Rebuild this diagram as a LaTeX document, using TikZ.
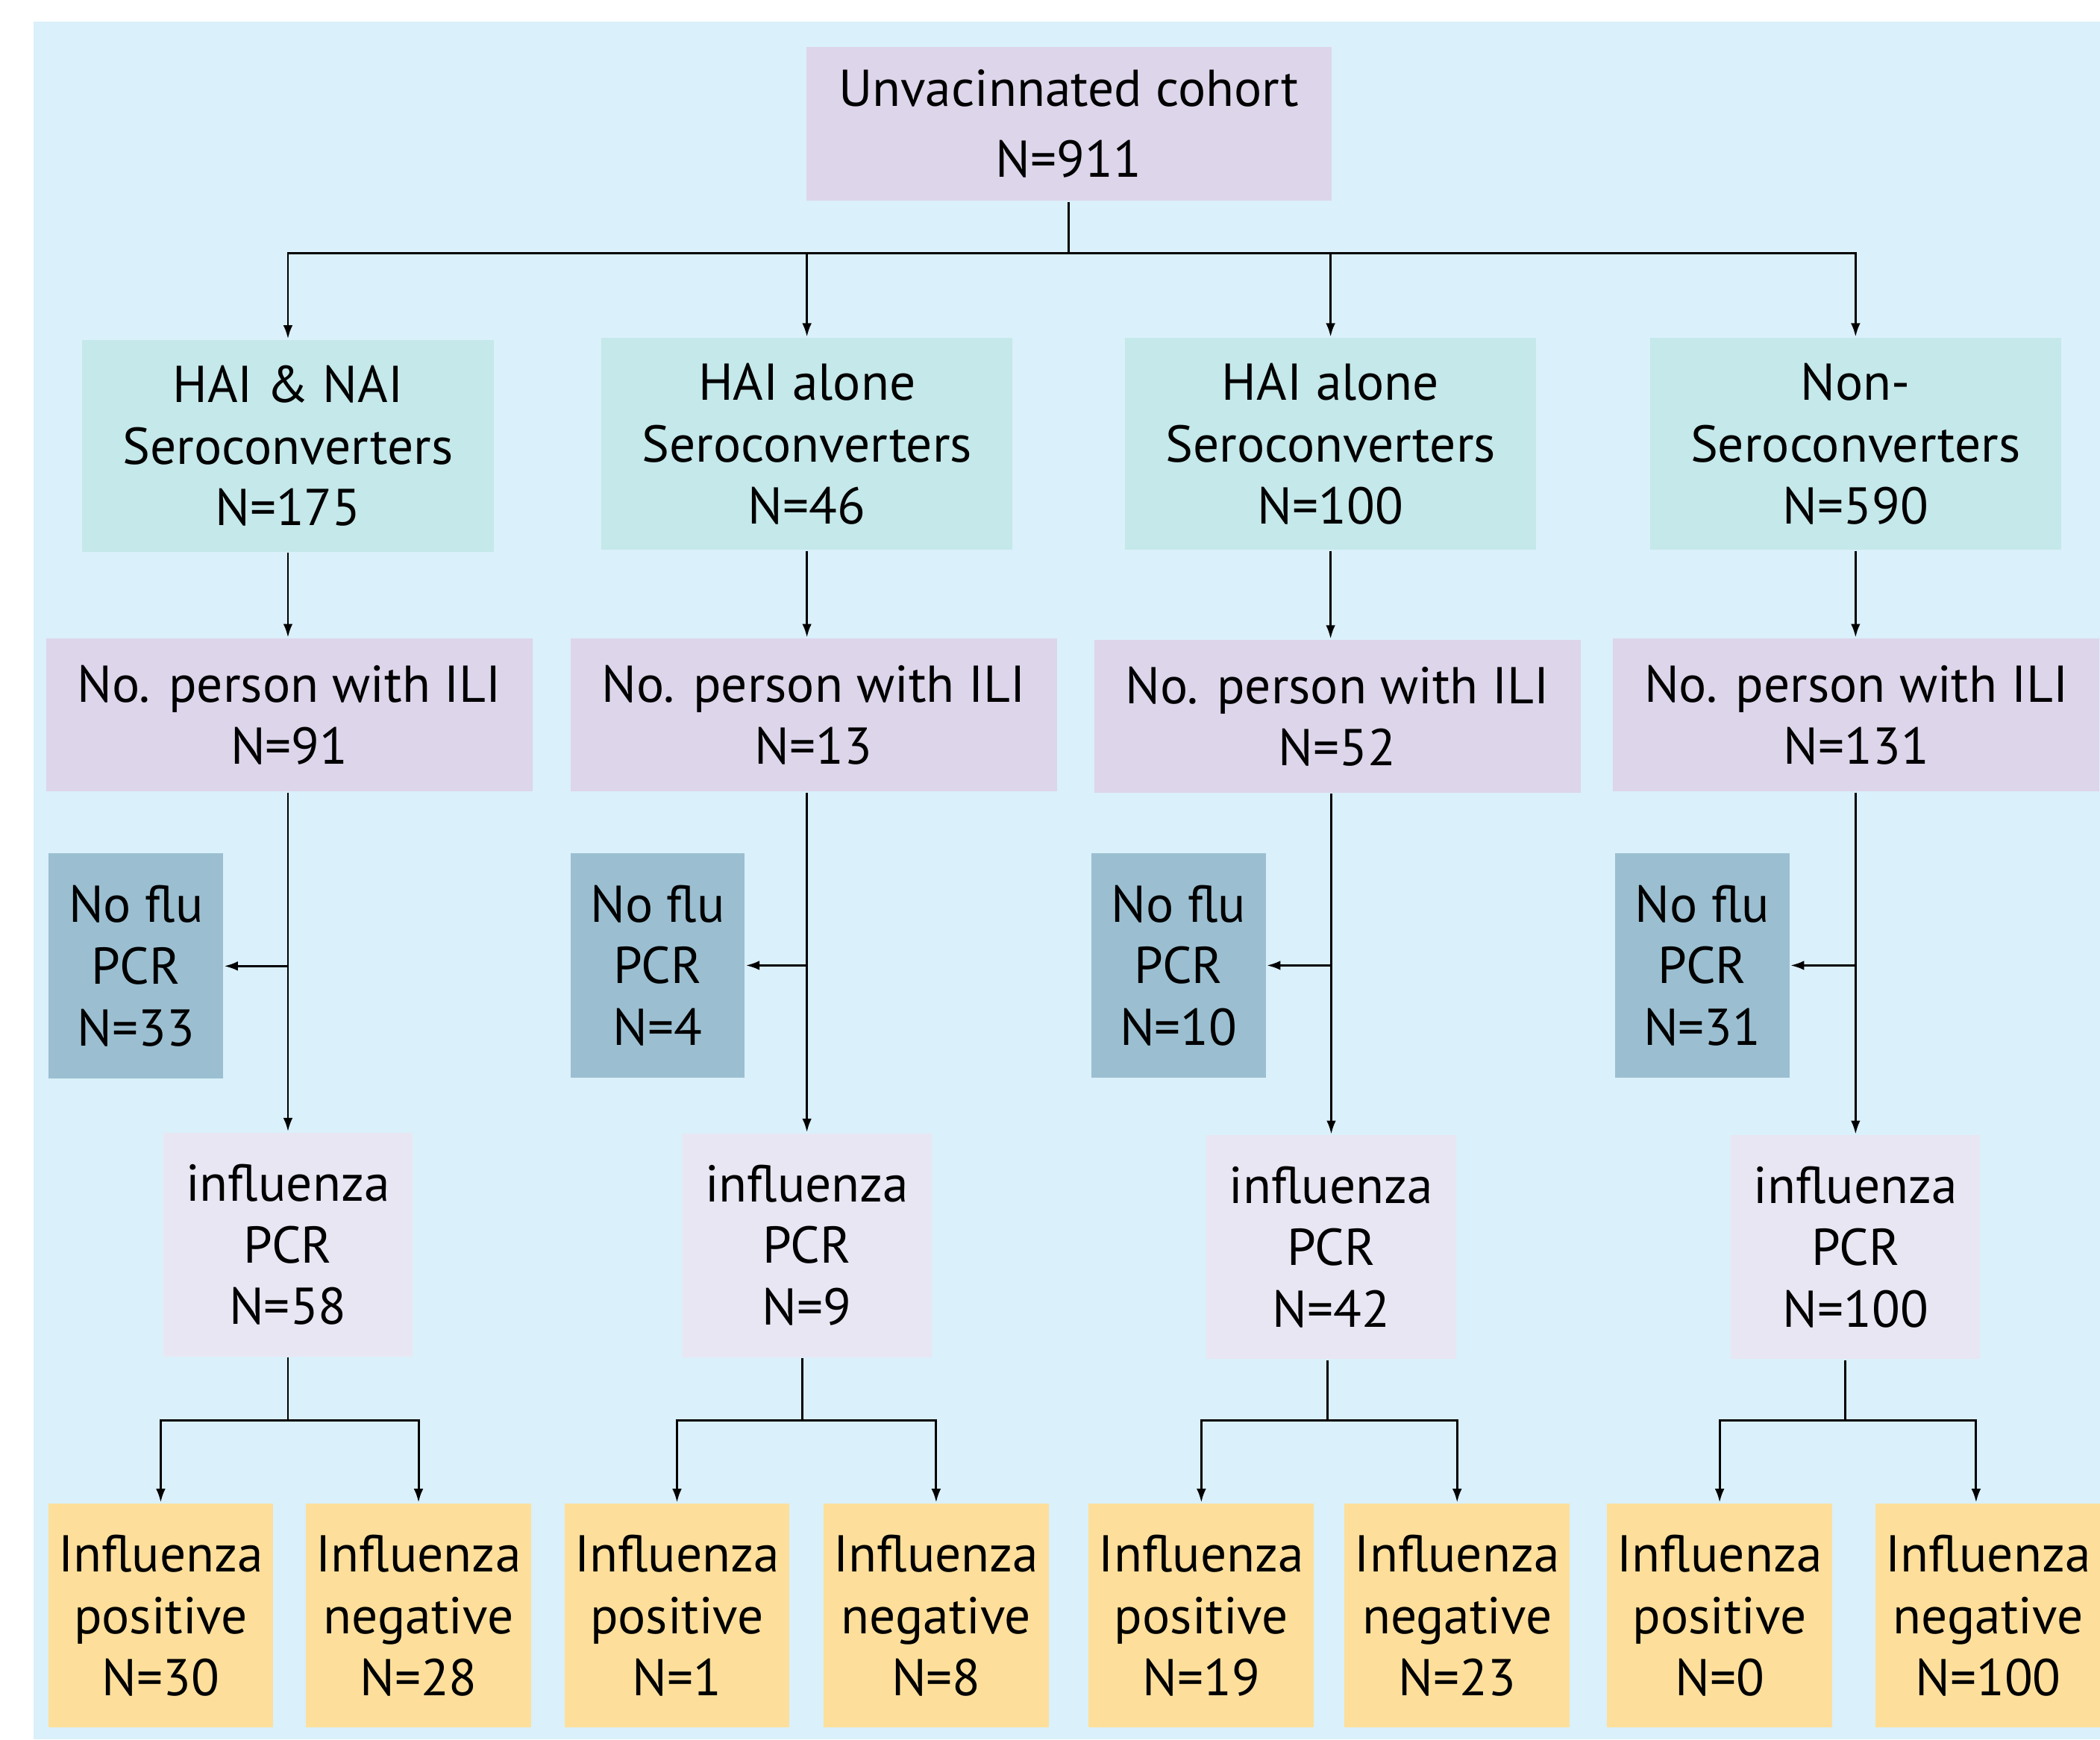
\documentclass[tikz,border=0pt]{standalone}
\usepackage{fontspec}
\setmainfont{PT Sans}
\usetikzlibrary{arrows.meta}
\definecolor{sky}{HTML}{DAF0FA}
\definecolor{lilac}{HTML}{DDD5EA}
\definecolor{mint}{HTML}{C5E8EA}
\definecolor{steel}{HTML}{9BBFD1}
\definecolor{pale}{HTML}{E9E6F3}
\definecolor{sand}{HTML}{FDDF9B}
\begin{document}
\begin{tikzpicture}[x=0.01cm, y=-0.01cm, line width=0.47pt,
    box/.style = {inner sep=0pt, align=center, font=\fontsize{11}{13.1}\selectfont},
    cohort/.style = {box, fill=lilac, minimum width=3.92cm, minimum height=1.15cm},
    sero/.style = {box, fill=mint, minimum width=3.07cm, minimum height=1.58cm},
    ili/.style = {box, fill=lilac, minimum width=3.63cm, minimum height=1.14cm},
    noflu/.style = {box, fill=steel, minimum width=1.30cm, minimum height=1.68cm},
    pcr/.style = {box, fill=pale, minimum width=1.86cm, minimum height=1.67cm},
    result/.style = {box, fill=sand, minimum width=1.68cm, minimum height=1.67cm},
    arr/.style = {-{Latex[length=2.9pt, width=2pt]}}]

    \useasboundingbox (0,0) rectangle (1568,1299);
    \fill[sky] (25,16) rectangle (1568,1299);

    \node [cohort] (c) at (798, 92.5) {Unvacinnated cohort\\[2pt]N=911};

    \node [sero] (s1) at (215, 333) {HAI \& NAI\\Seroconverters\\N=175};
    \node [sero] (s2) at (602.5, 331.5) {HAI alone\\Seroconverters\\N=46};
    \node [sero] (s3) at (993.5, 331.5) {HAI alone\\Seroconverters\\N=100};
    \node [sero] (s4) at (1385.5, 331.5) {Non-\\Seroconverters\\N=590};

    \node [ili] (i1) at (216, 534) {No. person with ILI\\N=91};
    \node [ili] (i2) at (607.5, 534) {No. person with ILI\\N=13};
    \node [ili] (i3) at (998.5, 535) {No. person with ILI\\N=52};
    \node [ili] (i4) at (1386, 534) {No. person with ILI\\N=131};

    \node [noflu] (n1) at (101.5, 721.5) {No flu\\PCR\\N=33};
    \node [noflu] (n2) at (491, 721) {No flu\\PCR\\N=4};
    \node [noflu] (n3) at (880, 721) {No flu\\PCR\\N=10};
    \node [noflu] (n4) at (1271, 721) {No flu\\PCR\\N=31};

    \node [pcr] (p1) at (215, 929.5) {influenza\\PCR\\N=58};
    \node [pcr] (p2) at (602.5, 930) {influenza\\PCR\\N=9};
    \node [pcr] (p3) at (994, 931.5) {influenza\\PCR\\N=42};
    \node [pcr] (p4) at (1385.5, 931.5) {influenza\\PCR\\N=100};

    \node [result] (pos1) at (120, 1206.5) {Influenza\\positive\\N=30};
    \node [result] (neg1) at (312.5, 1206.5) {Influenza\\negative\\N=28};
    \node [result] (pos2) at (505.5, 1206.5) {Influenza\\positive\\N=1};
    \node [result] (neg2) at (699, 1206.5) {Influenza\\negative\\N=8};
    \node [result] (pos3) at (897, 1206.5) {Influenza\\positive\\N=19};
    \node [result] (neg3) at (1088, 1206.5) {Influenza\\negative\\N=23};
    \node [result] (pos4) at (1284, 1206.5) {Influenza\\positive\\N=0};
    \node [result] (neg4) at (1484.5, 1206.5) {Influenza\\negative\\N=100};

    % split points under the PCR boxes
    \coordinate (j1) at (215, 1061);
    \coordinate (j2) at (599, 1061);
    \coordinate (j3) at (991, 1061);
    \coordinate (j4) at (1378, 1061);

    \coordinate (bus) at (798, 189);
    \draw (c.south) -- (bus);
    \foreach \k in {1,2,3,4} {
        \draw[arr] (bus) -| (s\k.north);
        \draw[arr] (s\k.south) -- (s\k.south |- i\k.north);
        \draw[arr] (i\k.south -| p\k.north) -- (p\k.north);
        \draw[arr] (p\k.north |- n\k.east) -- (n\k.east);
        \draw (p\k.south -| j\k) -- (j\k);
        \draw[arr] (j\k) -| (pos\k.north);
    }
    \foreach \k in {1,2,3}
        \draw[arr] (j\k) -| (neg\k.north);
    \draw[arr] (j4) -| ([xshift=-0.09cm]neg4.north);

\end{tikzpicture}
\end{document}
